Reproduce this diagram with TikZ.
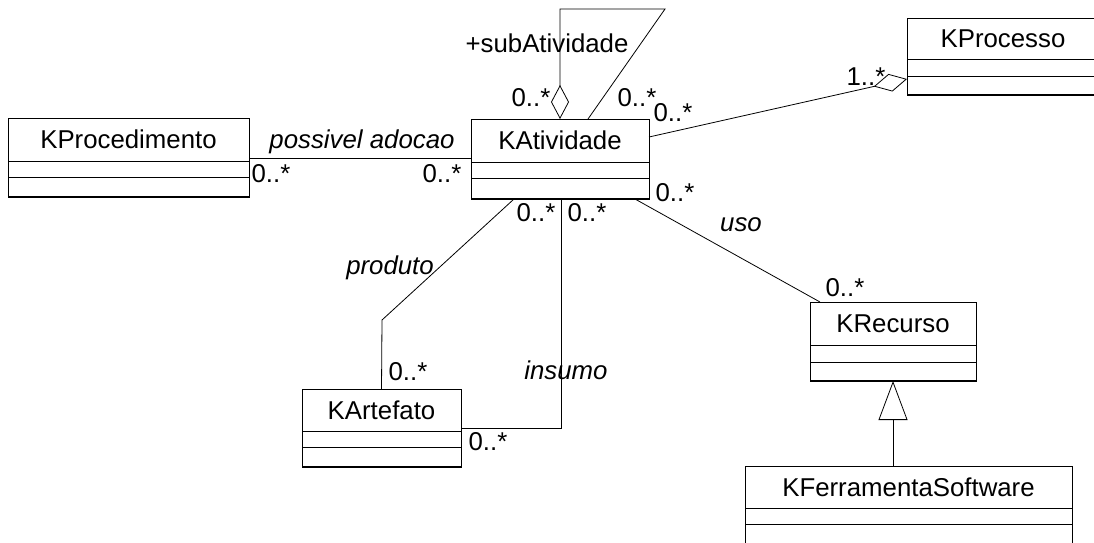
\documentclass[tikz,border=0pt]{standalone}
\usepackage{fontspec}
\setmainfont{Liberation Sans}
\usetikzlibrary{arrows.meta,calc}

\tikzset{
  classbox/.style={draw, line width=1pt, inner sep=0pt, outer sep=0pt},
  classtitle/.style={inner sep=0pt, font=\fontsize{25.8}{30}\selectfont},
  divider/.style={line width=1pt},
  assoc/.style={line width=0.8pt},
  mult/.style={inner sep=0pt, font=\fontsize{25.8}{30}\selectfont},
  role/.style={inner sep=0pt, font=\fontsize{25.8}{30}\selectfont\itshape},
  aggr/.style={assoc, -{Diamond[open, length=34pt, width=18pt, line width=0.8pt]}},
  gen/.style={assoc, -{Triangle[open, length=39pt, width=29pt, line width=0.8pt]}},
}

% class box: name, title, x1, y1, x2, y2, first divider, second divider
\newcommand{\umlclass}[8]{%
  \pgfmathsetmacro\umlW{#5-#3}%
  \pgfmathsetmacro\umlH{#6-#4}%
  \pgfmathsetmacro\umlTx{(#3+#5)/2}%
  \pgfmathsetmacro\umlTy{(#4+#7)/2}%
  \node[classbox, minimum width=\umlW pt, minimum height=\umlH pt, anchor=north west] (#1) at (#3,#4) {};
  \node[classtitle] (#1-title) at (\umlTx,\umlTy) {#2};
  \draw[divider] (#3,#7) -- (#5,#7);
  \draw[divider] (#3,#8) -- (#5,#8);
  \draw[line width=2pt] (#1.south west) -- (#1.south east);
}

\begin{document}
\begin{tikzpicture}[x=1pt, y=-1pt]
  \clip (0,0) rectangle (1094,542);
  \fill[white] (0,0) rectangle (1094,542);

  % classes
  \umlclass{proc}{KProcedimento}{8}{118}{249}{197}{161}{177}
  \umlclass{atv}{KAtividade}{471}{119}{649}{199}{162}{178}
  \umlclass{pro}{KProcesso}{907}{18}{1099}{95}{59}{76}
  \umlclass{rec}{KRecurso}{810}{302}{976}{381}{345}{362}
  \umlclass{art}{KArtefato}{302}{389}{461}{467}{431}{447}
  \umlclass{fs}{KFerramentaSoftware}{745}{466}{1072}{560}{508}{524}

  % bend points
  \coordinate (loopA) at (665,9);
  \coordinate (loopB) at (560,9);
  \coordinate (prodbend) at (382,320);

  % self aggregation on KAtividade
  \draw[aggr] ([xshift=117pt]atv.north west) -- (loopA) -- (loopB) -- ([xshift=89pt]atv.north west);

  % KAtividade -- KProcesso aggregation
  \draw[aggr] ([yshift=-18pt]atv.north east) -- ([yshift=16pt]pro.south west);

  % possivel adocao
  \draw[assoc] ([yshift=-40pt]proc.north east) -- ([yshift=-40pt]proc.north east -| atv.west);

  % produto
  \draw[assoc] ([xshift=43pt]atv.south west) -- (prodbend) -- (art.north);

  % insumo
  \draw[assoc] ([xshift=90pt]atv.south west) |- (art.east);

  % uso
  \draw[assoc] ([xshift=164pt]atv.south west) -- ([xshift=10pt]rec.north west);

  % generalization
  \draw[gen] (rec.south |- fs.north) -- (rec.south);

  % roles and multiplicities
  \node[mult] (m1) at (547,43) {+subAtividade};
  \node[mult] (m2) at (531,98) {0..*};
  \node[mult] (m3) at (637,98) {0..*};
  \node[mult] (m4) at (673,113) {0..*};
  \node[mult] (m5) at (866,77) {1..*};
  \node[role] (r1) at (362,142) {possivel adocao};
  \node[mult] (m6) at (271,174) {0..*};
  \node[mult] (m7) at (442,174) {0..*};
  \node[mult] (m8) at (675,193) {0..*};
  \node[mult] (m9) at (536,213) {0..*};
  \node[mult] (m10) at (587,213) {0..*};
  \node[role] (r2) at (390,268) {produto};
  \node[mult] (m11) at (408,372) {0..*};
  \node[role] (r3) at (566,370) {insumo};
  \node[mult] (m12) at (488,442) {0..*};
  \node[role] (r4) at (741,225) {uso};
  \node[mult] (m13) at (845,288) {0..*};
\end{tikzpicture}
\end{document}
